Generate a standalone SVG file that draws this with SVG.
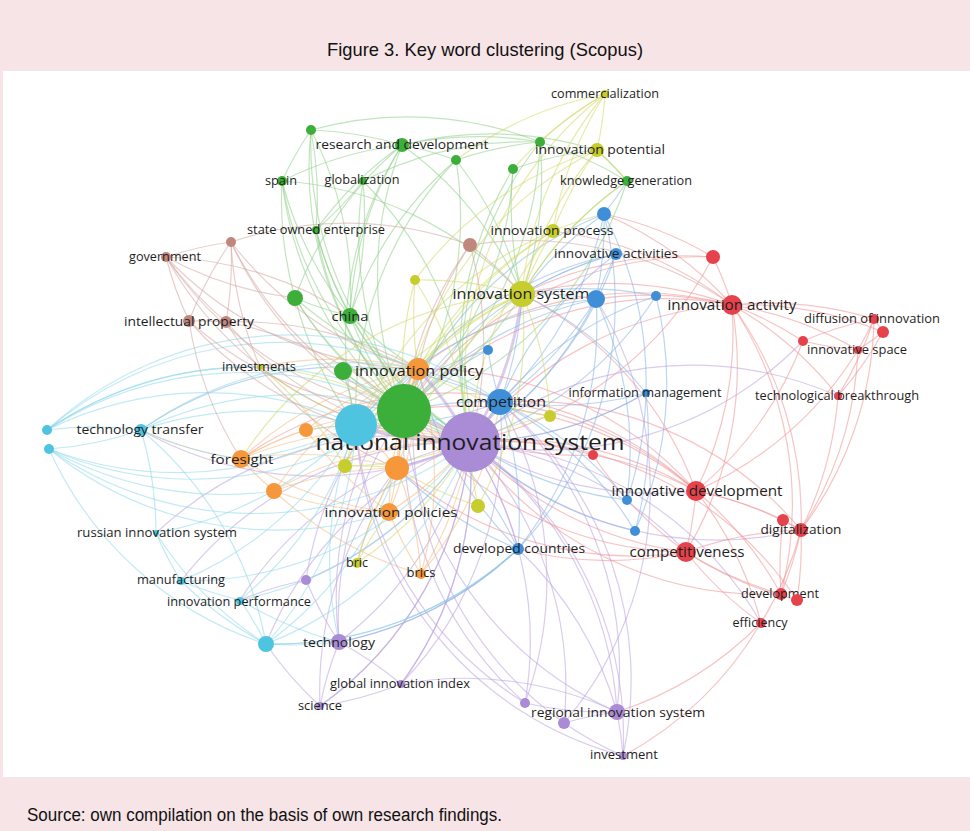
<svg xmlns="http://www.w3.org/2000/svg" width="970" height="831" viewBox="0 0 970 831">
<style>
.lbl{font-family:"Open Sans","DejaVu Sans",sans-serif;font-size:12px;fill:#1e1e1e;text-anchor:middle}
.md{font-size:15px}
.xl{font-size:22px}
.cap{font-family:"Liberation Sans",Arial,sans-serif;fill:#111}
g.e path{fill:none;stroke-width:1.2;stroke-opacity:0.55}
g.e path.w{stroke-width:3}
.e-pu path{stroke:#b9a3de}
.e-re path{stroke:#ef9396}
.e-bl path{stroke:#86b5e3}
.e-gr path{stroke:#8fcf89}
.e-ye path{stroke:#d2d866}
.e-or path{stroke:#f4bb80}
.e-cy path{stroke:#8fd8ea}
.e-br path{stroke:#d3a8a2}
.pu{fill:#a98bd6}.re{fill:#e5424b}.bl{fill:#3f8fd8}.gr{fill:#3cae3a}.ye{fill:#c6cd2c}.or{fill:#f5973a}.cy{fill:#4fc4e0}.br{fill:#c0877f}
</style>
<rect x="0" y="0" width="970" height="831" fill="#f6e4e6"/>
<rect x="3" y="71" width="967" height="706" fill="#ffffff"/>
<text class="cap" x="485" y="56" font-size="19" text-anchor="middle" textLength="316" lengthAdjust="spacingAndGlyphs">Figure 3. Key word clustering (Scopus)</text>
<text class="cap" x="27" y="821" font-size="18" textLength="475" lengthAdjust="spacingAndGlyphs">Source: own compilation on the basis of own research findings.</text>

<g id="connectors">
<g class="e e-pu">
<path class="w" d="M470 442A360 360 0 0 0 404 411"/><path class="w" d="M470 442A360 360 0 0 1 356 425"/><path class="w" d="M470 442A360 360 0 0 0 418 369"/><path class="w" d="M470 442A360 360 0 0 1 397 468"/><path class="w" d="M470 442A360 360 0 0 0 500 402"/><path class="w" d="M470 442A360 360 0 0 0 522 294"/>
<path d="M470 442A360 360 0 0 1 339 642"/><path d="M470 442A360 360 0 0 1 320 706"/><path d="M470 442A360 360 0 0 1 401 684"/><path d="M470 442A360 360 0 0 1 525 703"/><path d="M470 442A360 360 0 0 1 617 712"/><path d="M470 442A360 360 0 0 1 564 723"/><path d="M470 442A360 360 0 0 1 623 756"/><path d="M470 442A360 360 0 0 1 306 580"/><path d="M470 442A360 360 0 0 1 518 549"/><path d="M470 442A360 360 0 0 1 686 552"/><path d="M470 442A360 360 0 0 0 696 491"/><path d="M470 442A360 360 0 0 0 801 530"/><path d="M470 442A360 360 0 0 1 761 623"/><path d="M470 442A360 360 0 0 0 240 600"/><path d="M470 442A360 360 0 0 0 181 581"/><path d="M470 442A360 360 0 0 1 141 430"/><path d="M470 442A360 360 0 0 0 266 644"/><path d="M470 442A360 360 0 0 0 803 341"/><path d="M470 442A360 360 0 0 1 838 396"/><path d="M470 442A360 360 0 0 0 646 393"/><path d="M470 442A360 360 0 0 0 156 533"/><path d="M339 642A360 360 0 0 1 401 684"/><path d="M339 642A360 360 0 0 0 320 706"/><path d="M339 642A360 360 0 0 1 306 580"/><path d="M401 684A360 360 0 0 1 320 706"/><path d="M401 684A360 360 0 0 1 617 712"/><path d="M525 703A360 360 0 0 0 617 712"/><path d="M564 723A360 360 0 0 1 617 712"/><path d="M617 712A360 360 0 0 1 623 756"/><path d="M564 723A360 360 0 0 0 623 756"/><path d="M339 642A360 360 0 0 0 518 549"/><path d="M401 684A360 360 0 0 0 500 402"/><path d="M320 706A360 360 0 0 1 266 644"/><path d="M306 580A360 360 0 0 0 240 600"/><path d="M525 703A360 360 0 0 0 500 402"/><path d="M525 703A360 360 0 0 1 404 411"/><path d="M617 712A360 360 0 0 0 518 549"/><path d="M617 712A360 360 0 0 0 500 402"/><path d="M617 712A360 360 0 0 1 404 411"/><path d="M339 642A360 360 0 0 1 404 411"/><path d="M339 642A360 360 0 0 1 418 369"/><path d="M320 706A360 360 0 0 1 397 468"/><path d="M623 756A360 360 0 0 1 356 425"/><path d="M564 723A360 360 0 0 1 418 369"/><path d="M306 580A360 360 0 0 1 418 369"/><path d="M320 706A360 360 0 0 0 470 442"/><path d="M401 684A360 360 0 0 0 470 442"/><path d="M623 756A360 360 0 0 0 500 402"/><path d="M564 723A360 360 0 0 0 596 299"/><path d="M525 703A360 360 0 0 1 356 425"/>
</g>
<g class="e e-re">
<path d="M732 305A360 360 0 0 0 713 257"/><path d="M732 305A360 360 0 0 1 874 319"/><path d="M732 305A360 360 0 0 1 883 332"/><path d="M732 305A360 360 0 0 1 803 341"/><path d="M732 305A360 360 0 0 1 858 350"/><path d="M732 305A360 360 0 0 1 838 396"/><path d="M732 305A360 360 0 0 1 696 491"/><path d="M732 305A360 360 0 0 1 686 552"/><path d="M732 305A360 360 0 0 1 801 530"/><path d="M732 305A360 360 0 0 0 522 294"/><path d="M732 305A360 360 0 0 0 553 231"/><path d="M732 305A360 360 0 0 0 596 299"/><path d="M732 305A360 360 0 0 0 604 214"/><path d="M732 305A360 360 0 0 0 404 411"/><path d="M732 305A360 360 0 0 0 418 369"/><path d="M732 305A360 360 0 0 1 781 594"/><path d="M732 305A360 360 0 0 0 470 442"/><path d="M874 319A360 360 0 0 1 883 332"/><path d="M874 319A360 360 0 0 0 803 341"/><path d="M874 319A360 360 0 0 1 858 350"/><path d="M883 332A360 360 0 0 1 858 350"/><path d="M803 341A360 360 0 0 0 858 350"/><path d="M838 396A360 360 0 0 0 874 319"/><path d="M838 396A360 360 0 0 1 801 530"/><path d="M838 396A360 360 0 0 0 883 332"/><path d="M696 491A360 360 0 0 1 801 530"/><path d="M696 491A360 360 0 0 1 783 520"/><path d="M696 491A360 360 0 0 1 686 552"/><path d="M696 491A360 360 0 0 1 781 594"/><path d="M696 491A360 360 0 0 1 761 623"/><path d="M696 491A360 360 0 0 0 500 402"/><path d="M696 491A360 360 0 0 0 593 455"/><path d="M696 491A360 360 0 0 0 404 411"/><path d="M696 491A360 360 0 0 0 418 369"/><path d="M696 491A360 360 0 0 0 241 459"/><path d="M696 491A360 360 0 0 0 522 294"/><path d="M686 552A360 360 0 0 0 781 594"/><path d="M686 552A360 360 0 0 0 761 623"/><path d="M686 552A360 360 0 0 0 797 600"/><path d="M686 552A360 360 0 0 1 801 530"/><path d="M686 552A360 360 0 0 1 593 455"/><path d="M686 552A360 360 0 0 1 518 549"/><path d="M686 552A360 360 0 0 1 404 411"/><path d="M686 552A360 360 0 0 1 397 468"/><path d="M801 530A360 360 0 0 1 781 594"/><path d="M801 530A360 360 0 0 1 797 600"/><path d="M801 530A360 360 0 0 1 761 623"/><path d="M801 530A360 360 0 0 0 783 520"/><path d="M783 520A360 360 0 0 0 781 594"/><path d="M761 623A360 360 0 0 1 617 712"/><path d="M761 623A360 360 0 0 1 623 756"/><path d="M713 257A360 360 0 0 0 522 294"/><path d="M713 257A360 360 0 0 0 604 214"/><path d="M713 257A360 360 0 0 1 470 442"/><path d="M713 257A360 360 0 0 0 404 411"/><path d="M593 455A360 360 0 0 0 470 442"/><path d="M593 455A360 360 0 0 1 404 411"/><path d="M781 594A360 360 0 0 1 470 442"/><path d="M803 341A360 360 0 0 1 696 491"/><path d="M858 350A360 360 0 0 1 696 491"/><path d="M858 350A360 360 0 0 1 801 530"/><path d="M797 600A360 360 0 0 0 470 442"/><path d="M874 319A360 360 0 0 1 801 530"/><path d="M686 552A360 360 0 0 1 470 442"/><path d="M696 491A360 360 0 0 0 470 442"/><path d="M801 530A360 360 0 0 0 500 402"/>
</g>
<g class="e e-bl">
<path d="M500 402A360 360 0 0 0 596 299"/><path d="M500 402A360 360 0 0 0 604 214"/><path d="M500 402A360 360 0 0 1 616 254"/><path d="M500 402A360 360 0 0 1 656 296"/><path d="M500 402A360 360 0 0 1 488 350"/><path d="M500 402A360 360 0 0 0 646 393"/><path d="M500 402A360 360 0 0 1 518 549"/><path d="M500 402A360 360 0 0 1 627 500"/><path d="M500 402A360 360 0 0 1 635 531"/><path d="M500 402A360 360 0 0 1 470 442"/><path d="M500 402A360 360 0 0 0 404 411"/><path d="M500 402A360 360 0 0 1 356 425"/><path d="M500 402A360 360 0 0 0 522 294"/><path d="M500 402A360 360 0 0 0 141 430"/><path d="M500 402A360 360 0 0 0 418 369"/><path d="M596 299A360 360 0 0 1 470 442"/><path d="M596 299A360 360 0 0 0 522 294"/><path d="M596 299A360 360 0 0 0 604 214"/><path d="M596 299A360 360 0 0 1 616 254"/><path d="M596 299A360 360 0 0 1 518 549"/><path d="M596 299A360 360 0 0 1 627 500"/><path d="M596 299A360 360 0 0 0 404 411"/><path d="M646 393A360 360 0 0 0 604 214"/><path d="M646 393A360 360 0 0 1 627 500"/><path d="M646 393A360 360 0 0 1 635 531"/><path d="M646 393A360 360 0 0 1 470 442"/><path d="M646 393A360 360 0 0 0 522 294"/><path d="M518 549A360 360 0 0 1 339 642"/><path d="M518 549A360 360 0 0 1 266 644"/><path d="M518 549A360 360 0 0 0 404 411"/><path d="M518 549A360 360 0 0 1 397 468"/><path d="M604 214A360 360 0 0 0 522 294"/><path d="M604 214A360 360 0 0 0 627 181"/><path d="M616 254A360 360 0 0 0 522 294"/><path d="M616 254A360 360 0 0 1 470 442"/><path d="M656 296A360 360 0 0 1 470 442"/><path d="M656 296A360 360 0 0 0 522 294"/><path d="M488 350A360 360 0 0 0 404 411"/><path d="M488 350A360 360 0 0 0 356 425"/><path d="M627 500A360 360 0 0 1 470 442"/><path d="M635 531A360 360 0 0 1 470 442"/><path d="M604 214A360 360 0 0 0 404 411"/><path d="M616 254A360 360 0 0 0 404 411"/><path d="M518 549A360 360 0 0 1 418 369"/><path d="M604 214A360 360 0 0 1 518 549"/><path d="M656 296A360 360 0 0 1 635 531"/><path d="M596 299A360 360 0 0 0 356 425"/><path d="M616 254A360 360 0 0 0 418 369"/>
</g>
<g class="e e-gr">
<path class="w" d="M404 411A360 360 0 0 1 356 425"/>
<path d="M404 411A360 360 0 0 1 402 145"/><path d="M404 411A360 360 0 0 1 311 130"/><path d="M404 411A360 360 0 0 0 456 160"/><path d="M404 411A360 360 0 0 1 282 181"/><path d="M404 411A360 360 0 0 1 363 181"/><path d="M404 411A360 360 0 0 1 316 230"/><path d="M404 411A360 360 0 0 1 295 298"/><path d="M404 411A360 360 0 0 1 350 316"/><path d="M404 411A360 360 0 0 1 343 371"/><path d="M404 411A360 360 0 0 0 540 142"/><path d="M404 411A360 360 0 0 0 513 169"/><path d="M404 411A360 360 0 0 0 627 181"/><path d="M404 411A360 360 0 0 0 522 294"/><path d="M404 411A360 360 0 0 0 418 369"/><path d="M402 145A360 360 0 0 0 311 130"/><path d="M402 145A360 360 0 0 1 456 160"/><path d="M402 145A360 360 0 0 1 540 142"/><path d="M402 145A360 360 0 0 0 282 181"/><path d="M402 145A360 360 0 0 0 350 316"/><path d="M402 145A360 360 0 0 0 295 298"/><path d="M402 145A360 360 0 0 1 522 294"/><path d="M402 145A360 360 0 0 1 597 150"/><path d="M402 145A360 360 0 0 0 316 230"/><path d="M311 130A360 360 0 0 0 282 181"/><path d="M311 130A360 360 0 0 1 540 142"/><path d="M311 130A360 360 0 0 1 316 230"/><path d="M311 130A360 360 0 0 1 350 316"/><path d="M456 160A360 360 0 0 1 540 142"/><path d="M456 160A360 360 0 0 1 522 294"/><path d="M456 160A360 360 0 0 0 350 316"/><path d="M350 316A360 360 0 0 1 282 181"/><path d="M350 316A360 360 0 0 1 316 230"/><path d="M350 316A360 360 0 0 1 295 298"/><path d="M350 316A360 360 0 0 0 363 181"/><path d="M350 316A360 360 0 0 0 470 442"/><path d="M350 316A360 360 0 0 0 418 369"/><path d="M295 298A360 360 0 0 1 282 181"/><path d="M295 298A360 360 0 0 0 470 442"/><path d="M295 298A360 360 0 0 0 418 369"/><path d="M343 371A360 360 0 0 0 470 442"/><path d="M343 371A360 360 0 0 1 418 369"/><path d="M343 371A360 360 0 0 1 356 425"/><path d="M363 181A360 360 0 0 1 316 230"/><path d="M363 181A360 360 0 0 1 470 442"/><path d="M316 230A360 360 0 0 0 470 442"/><path d="M540 142A360 360 0 0 1 627 181"/><path d="M540 142A360 360 0 0 1 522 294"/><path d="M513 169A360 360 0 0 0 522 294"/><path d="M513 169A360 360 0 0 1 597 150"/><path d="M627 181A360 360 0 0 0 522 294"/><path d="M627 181A360 360 0 0 0 597 150"/><path d="M282 181A360 360 0 0 0 470 442"/><path d="M295 298A360 360 0 0 0 356 425"/><path d="M311 130A360 360 0 0 0 470 442"/><path d="M282 181A360 360 0 0 1 522 294"/><path d="M363 181A360 360 0 0 1 540 142"/><path d="M402 145A360 360 0 0 0 356 425"/><path d="M456 160A360 360 0 0 0 356 425"/><path d="M540 142A360 360 0 0 0 470 442"/><path d="M513 169A360 360 0 0 0 470 442"/>
</g>
<g class="e e-ye">
<path d="M522 294A360 360 0 0 1 553 231"/><path d="M522 294A360 360 0 0 1 597 150"/><path d="M522 294A360 360 0 0 1 605 94"/><path d="M522 294A360 360 0 0 0 415 280"/><path d="M522 294A360 360 0 0 0 418 369"/><path d="M522 294A360 360 0 0 0 345 466"/><path d="M522 294A360 360 0 0 1 478 506"/><path d="M522 294A360 360 0 0 1 550 416"/><path d="M522 294A360 360 0 0 1 627 181"/><path d="M522 294A360 360 0 0 0 356 425"/><path d="M522 294A360 360 0 0 0 397 468"/><path d="M522 294A360 360 0 0 0 241 459"/><path d="M605 94A360 360 0 0 1 597 150"/><path d="M605 94A360 360 0 0 0 553 231"/><path d="M605 94A360 360 0 0 0 540 142"/><path d="M605 94A360 360 0 0 0 513 169"/><path d="M605 94A360 360 0 0 0 456 160"/><path d="M597 150A360 360 0 0 0 553 231"/><path d="M597 150A360 360 0 0 1 627 181"/><path d="M553 231A360 360 0 0 1 604 214"/><path d="M553 231A360 360 0 0 0 470 442"/><path d="M553 231A360 360 0 0 0 404 411"/><path d="M415 280A360 360 0 0 1 470 442"/><path d="M415 280A360 360 0 0 0 404 411"/><path d="M415 280A360 360 0 0 0 418 369"/><path d="M260 367A360 360 0 0 1 345 466"/><path d="M260 367A360 360 0 0 0 470 442"/><path d="M260 367A360 360 0 0 1 404 411"/><path d="M345 466A360 360 0 0 0 470 442"/><path d="M345 466A360 360 0 0 1 397 468"/><path d="M478 506A360 360 0 0 1 470 442"/><path d="M478 506A360 360 0 0 1 397 468"/><path d="M550 416A360 360 0 0 0 470 442"/><path d="M357 563A360 360 0 0 0 470 442"/><path d="M357 563A360 360 0 0 1 397 468"/><path d="M357 563A360 360 0 0 1 389 512"/><path d="M605 94A360 360 0 0 0 470 442"/><path d="M597 150A360 360 0 0 0 415 280"/><path d="M553 231A360 360 0 0 0 345 466"/><path d="M550 416A360 360 0 0 1 418 369"/><path d="M597 150A360 360 0 0 0 404 411"/><path d="M553 231A360 360 0 0 0 418 369"/>
</g>
<g class="e e-or">
<path class="w" d="M418 369A360 360 0 0 0 397 468"/>
<path d="M418 369A360 360 0 0 0 404 411"/><path d="M418 369A360 360 0 0 0 241 459"/><path d="M418 369A360 360 0 0 0 306 430"/><path d="M418 369A360 360 0 0 0 274 491"/><path d="M418 369A360 360 0 0 1 389 512"/><path d="M418 369A360 360 0 0 1 421 574"/><path d="M397 468A360 360 0 0 1 389 512"/><path d="M397 468A360 360 0 0 1 421 574"/><path d="M397 468A360 360 0 0 0 357 563"/><path d="M397 468A360 360 0 0 0 241 459"/><path d="M397 468A360 360 0 0 0 274 491"/><path d="M397 468A360 360 0 0 0 356 425"/><path d="M241 459A360 360 0 0 1 306 430"/><path d="M241 459A360 360 0 0 0 274 491"/><path d="M241 459A360 360 0 0 1 470 442"/><path d="M241 459A360 360 0 0 0 389 512"/><path d="M241 459A360 360 0 0 1 404 411"/><path d="M389 512A360 360 0 0 0 421 574"/><path d="M389 512A360 360 0 0 0 470 442"/><path d="M389 512A360 360 0 0 1 404 411"/><path d="M306 430A360 360 0 0 1 470 442"/><path d="M274 491A360 360 0 0 1 470 442"/><path d="M274 491A360 360 0 0 0 389 512"/><path d="M421 574A360 360 0 0 0 470 442"/><path d="M418 369A360 360 0 0 0 260 367"/><path d="M241 459A360 360 0 0 1 141 430"/><path d="M274 491A360 360 0 0 0 421 574"/><path d="M306 430A360 360 0 0 0 389 512"/><path d="M397 468A360 360 0 0 0 404 411"/><path d="M421 574A360 360 0 0 0 500 402"/>
</g>
<g class="e e-cy">
<path d="M356 425A360 360 0 0 0 141 430"/><path d="M356 425A360 360 0 0 0 47 430"/><path d="M49 449A360 360 0 0 0 356 425"/><path d="M356 425A360 360 0 0 1 156 533"/><path d="M356 425A360 360 0 0 1 181 581"/><path d="M356 425A360 360 0 0 1 240 600"/><path d="M356 425A360 360 0 0 1 266 644"/><path d="M356 425A360 360 0 0 1 418 369"/><path d="M356 425A360 360 0 0 1 241 459"/><path d="M356 425A360 360 0 0 0 339 642"/><path d="M356 425A360 360 0 0 0 306 430"/><path d="M141 430A360 360 0 0 0 47 430"/><path d="M49 449A360 360 0 0 0 141 430"/><path d="M141 430A360 360 0 0 0 241 459"/><path d="M141 430A360 360 0 0 1 266 644"/><path d="M47 430A360 360 0 0 1 470 442"/><path d="M47 430A360 360 0 0 1 404 411"/><path d="M47 430A360 360 0 0 1 418 369"/><path d="M470 442A360 360 0 0 1 49 449"/><path d="M389 512A360 360 0 0 1 49 449"/><path d="M274 491A360 360 0 0 1 49 449"/><path d="M47 430A360 360 0 0 1 500 402"/><path d="M266 644A360 360 0 0 1 181 581"/><path d="M266 644A360 360 0 0 0 240 600"/><path d="M266 644A360 360 0 0 0 339 642"/><path d="M266 644A360 360 0 0 1 156 533"/><path d="M266 644A360 360 0 0 0 470 442"/><path d="M266 644A360 360 0 0 0 518 549"/><path d="M156 533A360 360 0 0 0 181 581"/><path d="M156 533A360 360 0 0 0 141 430"/><path d="M181 581A360 360 0 0 0 240 600"/><path d="M240 600A360 360 0 0 0 470 442"/><path d="M240 600A360 360 0 0 0 339 642"/><path d="M181 581A360 360 0 0 0 470 442"/><path d="M49 449A360 360 0 0 0 404 411"/><path d="M47 430A360 360 0 0 1 260 367"/><path d="M141 430A360 360 0 0 1 418 369"/><path d="M49 449A360 360 0 0 0 266 644"/><path d="M266 644A360 360 0 0 0 397 468"/><path d="M141 430A360 360 0 0 1 404 411"/>
</g>
<g class="e e-br">
<path d="M166 257A360 360 0 0 0 189 321"/><path d="M166 257A360 360 0 0 0 226 322"/><path d="M166 257A360 360 0 0 1 231 242"/><path d="M166 257A360 360 0 0 0 404 411"/><path d="M166 257A360 360 0 0 0 470 442"/><path d="M166 257A360 360 0 0 0 418 369"/><path d="M166 257A360 360 0 0 1 350 316"/><path d="M166 257A360 360 0 0 0 295 298"/><path d="M231 242A360 360 0 0 0 189 321"/><path d="M231 242A360 360 0 0 1 226 322"/><path d="M231 242A360 360 0 0 0 404 411"/><path d="M231 242A360 360 0 0 0 470 442"/><path d="M231 242A360 360 0 0 1 470 245"/><path d="M231 242A360 360 0 0 0 418 369"/><path d="M226 322A360 360 0 0 0 470 442"/><path d="M226 322A360 360 0 0 1 404 411"/><path d="M226 322A360 360 0 0 1 418 369"/><path d="M226 322A360 360 0 0 0 397 468"/><path d="M189 321A360 360 0 0 0 470 442"/><path d="M189 321A360 360 0 0 0 404 411"/><path d="M189 321A360 360 0 0 1 226 322"/><path d="M470 245A360 360 0 0 1 522 294"/><path d="M470 245A360 360 0 0 1 470 442"/><path d="M470 245A360 360 0 0 1 732 305"/><path d="M470 245A360 360 0 0 0 404 411"/><path d="M470 245A360 360 0 0 0 418 369"/><path d="M189 321A360 360 0 0 0 241 459"/><path d="M231 242A360 360 0 0 0 260 367"/>
</g>
</g>

<g id="nodes">
<g id="n-nis"><circle cx="470" cy="442" r="30" class="pu"/><text class="lbl xl" x="470" y="450" textLength="309" lengthAdjust="spacingAndGlyphs">national innovation system</text></g>
<g id="n-green-main"><circle cx="404" cy="411" r="27" class="gr"/></g>
<g id="n-cyan-main"><circle cx="356" cy="425" r="21" class="cy"/></g>
<g id="n-innovation-policy"><circle cx="418" cy="369" r="11" class="or"/><text class="lbl md" x="419" y="376" textLength="128" lengthAdjust="spacingAndGlyphs">innovation policy</text></g>
<g id="n-orange-1"><circle cx="397" cy="468" r="12" class="or"/></g>
<g id="n-innovation-system"><circle cx="522" cy="294" r="13" class="ye"/><text class="lbl md" x="521" y="299" textLength="137" lengthAdjust="spacingAndGlyphs">innovation system</text></g>
<g id="n-competition"><circle cx="500" cy="402" r="13" class="bl"/><text class="lbl md" x="501" y="407" textLength="90" lengthAdjust="spacingAndGlyphs">competition</text></g>
<g id="n-research-dev"><circle cx="402" cy="145" r="7" class="gr"/><text class="lbl" x="402" y="149" textLength="173" lengthAdjust="spacingAndGlyphs">research and development</text></g>
<g id="n-green-1"><circle cx="311" cy="130" r="5" class="gr"/></g>
<g id="n-green-2"><circle cx="456" cy="160" r="5" class="gr"/></g>
<g id="n-spain"><circle cx="282" cy="181" r="5" class="gr"/><text class="lbl" x="281" y="185" textLength="32" lengthAdjust="spacingAndGlyphs">spain</text></g>
<g id="n-globalization"><circle cx="363" cy="181" r="4" class="gr"/><text class="lbl" x="362" y="184" textLength="75" lengthAdjust="spacingAndGlyphs">globalization</text></g>
<g id="n-state-owned"><circle cx="316" cy="230" r="4" class="gr"/><text class="lbl" x="316" y="234" textLength="138" lengthAdjust="spacingAndGlyphs">state owned enterprise</text></g>
<g id="n-green-3"><circle cx="295" cy="298" r="8" class="gr"/></g>
<g id="n-china"><circle cx="350" cy="316" r="8" class="gr"/><text class="lbl" x="350" y="321" font-size="14" textLength="37" lengthAdjust="spacingAndGlyphs">china</text></g>
<g id="n-green-4"><circle cx="343" cy="371" r="9" class="gr"/></g>
<g id="n-green-5"><circle cx="540" cy="142" r="5" class="gr"/></g>
<g id="n-green-6"><circle cx="513" cy="169" r="5" class="gr"/></g>
<g id="n-knowledge-generation"><circle cx="627" cy="181" r="5" class="gr"/><text class="lbl" x="626" y="185" textLength="132" lengthAdjust="spacingAndGlyphs">knowledge generation</text></g>
<g id="n-commercialization"><circle cx="605" cy="94" r="4" class="ye"/><text class="lbl" x="605" y="98" textLength="108" lengthAdjust="spacingAndGlyphs">commercialization</text></g>
<g id="n-innovation-potential"><circle cx="597" cy="150" r="7" class="ye"/><text class="lbl" x="600" y="154" textLength="130" lengthAdjust="spacingAndGlyphs">innovation potential</text></g>
<g id="n-innovation-process"><circle cx="553" cy="231" r="7" class="ye"/><text class="lbl" x="552" y="235" textLength="123" lengthAdjust="spacingAndGlyphs">innovation process</text></g>
<g id="n-yellow-1"><circle cx="415" cy="280" r="5" class="ye"/></g>
<g id="n-investments"><circle cx="260" cy="367" r="3" class="ye"/><text class="lbl" x="259" y="371" textLength="74" lengthAdjust="spacingAndGlyphs">investments</text></g>
<g id="n-yellow-2"><circle cx="345" cy="466" r="7" class="ye"/></g>
<g id="n-yellow-3"><circle cx="478" cy="506" r="7" class="ye"/></g>
<g id="n-yellow-4"><circle cx="550" cy="416" r="6" class="ye"/></g>
<g id="n-bric"><circle cx="357" cy="563" r="5" class="ye"/><text class="lbl" x="357" y="567" textLength="22" lengthAdjust="spacingAndGlyphs">bric</text></g>
<g id="n-orange-2"><circle cx="306" cy="430" r="7" class="or"/></g>
<g id="n-foresight"><circle cx="241" cy="459" r="9" class="or"/><text class="lbl" x="242" y="464" font-size="13" textLength="63" lengthAdjust="spacingAndGlyphs">foresight</text></g>
<g id="n-orange-3"><circle cx="274" cy="491" r="8" class="or"/></g>
<g id="n-innovation-policies"><circle cx="389" cy="512" r="9" class="or"/><text class="lbl" x="391" y="517" font-size="13" textLength="133" lengthAdjust="spacingAndGlyphs">innovation policies</text></g>
<g id="n-brics"><circle cx="421" cy="574" r="5" class="or"/><text class="lbl" x="421" y="577" textLength="29" lengthAdjust="spacingAndGlyphs">brics</text></g>
<g id="n-technology-transfer"><circle cx="141" cy="430" r="6" class="cy"/><text class="lbl" x="140" y="434" textLength="127" lengthAdjust="spacingAndGlyphs">technology transfer</text></g>
<g id="n-cyan-1"><circle cx="47" cy="430" r="5" class="cy"/></g>
<g id="n-cyan-2"><circle cx="49" cy="449" r="5" class="cy"/></g>
<g id="n-russian"><circle cx="156" cy="533" r="3" class="cy"/><text class="lbl" x="157" y="537" textLength="160" lengthAdjust="spacingAndGlyphs">russian innovation system</text></g>
<g id="n-manufacturing"><circle cx="181" cy="581" r="4" class="cy"/><text class="lbl" x="181" y="584" textLength="88" lengthAdjust="spacingAndGlyphs">manufacturing</text></g>
<g id="n-innovation-performance"><circle cx="240" cy="601" r="4" class="cy"/><text class="lbl" x="239" y="606" textLength="144" lengthAdjust="spacingAndGlyphs">innovation performance</text></g>
<g id="n-cyan-3"><circle cx="266" cy="644" r="8" class="cy"/></g>
<g id="n-technology"><circle cx="339" cy="642" r="8" class="pu"/><text class="lbl" x="339" y="647" textLength="72" lengthAdjust="spacingAndGlyphs">technology</text></g>
<g id="n-global-index"><circle cx="401" cy="684" r="4" class="pu"/><text class="lbl" x="400" y="688" textLength="140" lengthAdjust="spacingAndGlyphs">global innovation index</text></g>
<g id="n-science"><circle cx="320" cy="706" r="4" class="pu"/><text class="lbl" x="320" y="710" textLength="44" lengthAdjust="spacingAndGlyphs">science</text></g>
<g id="n-purple-1"><circle cx="525" cy="703" r="5" class="pu"/></g>
<g id="n-purple-2"><circle cx="564" cy="723" r="6" class="pu"/></g>
<g id="n-regional"><circle cx="617" cy="712" r="8" class="pu"/><text class="lbl" x="618" y="717" font-size="13" textLength="174" lengthAdjust="spacingAndGlyphs">regional innovation system</text></g>
<g id="n-investment"><circle cx="623" cy="756" r="4" class="pu"/><text class="lbl" x="624" y="759" textLength="68" lengthAdjust="spacingAndGlyphs">investment</text></g>
<g id="n-purple-3"><circle cx="306" cy="580" r="5" class="pu"/></g>
<g id="n-blue-1"><circle cx="604" cy="214" r="7" class="bl"/></g>
<g id="n-innovative-activities"><circle cx="616" cy="254" r="6" class="bl"/><text class="lbl" x="616" y="258" textLength="124" lengthAdjust="spacingAndGlyphs">innovative activities</text></g>
<g id="n-blue-2"><circle cx="596" cy="299" r="9" class="bl"/></g>
<g id="n-blue-3"><circle cx="656" cy="296" r="5" class="bl"/></g>
<g id="n-blue-4"><circle cx="488" cy="350" r="5" class="bl"/></g>
<g id="n-information-management"><circle cx="646" cy="393" r="4" class="bl"/><text class="lbl" x="645" y="397" textLength="153" lengthAdjust="spacingAndGlyphs">information management</text></g>
<g id="n-blue-5"><circle cx="627" cy="500" r="5" class="bl"/></g>
<g id="n-blue-6"><circle cx="635" cy="531" r="5" class="bl"/></g>
<g id="n-developed-countries"><circle cx="518" cy="549" r="6" class="bl"/><text class="lbl" x="519" y="553" font-size="13" textLength="132" lengthAdjust="spacingAndGlyphs">developed countries</text></g>
<g id="n-red-1"><circle cx="713" cy="257" r="7" class="re"/></g>
<g id="n-innovation-activity"><circle cx="732" cy="305" r="10" class="re"/><text class="lbl md" x="732" y="310" font-size="14" textLength="129" lengthAdjust="spacingAndGlyphs">innovation activity</text></g>
<g id="n-diffusion"><circle cx="874" cy="319" r="5" class="re"/><text class="lbl" x="872" y="323" textLength="136" lengthAdjust="spacingAndGlyphs">diffusion of innovation</text></g>
<g id="n-red-2"><circle cx="883" cy="332" r="6" class="re"/></g>
<g id="n-red-3"><circle cx="803" cy="341" r="5" class="re"/></g>
<g id="n-innovative-space"><circle cx="858" cy="350" r="4" class="re"/><text class="lbl" x="857" y="354" textLength="100" lengthAdjust="spacingAndGlyphs">innovative space</text></g>
<g id="n-tech-breakthrough"><circle cx="838" cy="396" r="4" class="re"/><text class="lbl" x="837" y="400" textLength="164" lengthAdjust="spacingAndGlyphs">technological breakthrough</text></g>
<g id="n-red-4"><circle cx="593" cy="455" r="5" class="re"/></g>
<g id="n-innovative-development"><circle cx="696" cy="491" r="10" class="re"/><text class="lbl md" x="697" y="496" font-size="14" textLength="171" lengthAdjust="spacingAndGlyphs">innovative development</text></g>
<g id="n-red-5"><circle cx="783" cy="520" r="6" class="re"/></g>
<g id="n-digitalization"><circle cx="801" cy="530" r="7" class="re"/><text class="lbl" x="801" y="534" font-size="13" textLength="81" lengthAdjust="spacingAndGlyphs">digitalization</text></g>
<g id="n-competitiveness"><circle cx="686" cy="552" r="10" class="re"/><text class="lbl md" x="687" y="557" font-size="14" textLength="115" lengthAdjust="spacingAndGlyphs">competitiveness</text></g>
<g id="n-development"><circle cx="781" cy="594" r="6" class="re"/><text class="lbl" x="780" y="598" textLength="78" lengthAdjust="spacingAndGlyphs">development</text></g>
<g id="n-red-6"><circle cx="797" cy="600" r="6" class="re"/></g>
<g id="n-efficiency"><circle cx="761" cy="623" r="5" class="re"/><text class="lbl" x="760" y="627" textLength="55" lengthAdjust="spacingAndGlyphs">efficiency</text></g>
<g id="n-government"><circle cx="166" cy="257" r="5" class="br"/><text class="lbl" x="165" y="261" textLength="72" lengthAdjust="spacingAndGlyphs">government</text></g>
<g id="n-brown-1"><circle cx="231" cy="242" r="5" class="br"/></g>
<g id="n-brown-2"><circle cx="470" cy="245" r="7" class="br"/></g>
<g id="n-brown-3"><circle cx="226" cy="322" r="6" class="br"/></g>
<g id="n-intellectual-property"><circle cx="189" cy="321" r="6" class="br"/><text class="lbl" x="189" y="326" font-size="13" textLength="130" lengthAdjust="spacingAndGlyphs">intellectual property</text></g>
</g>
</svg>
